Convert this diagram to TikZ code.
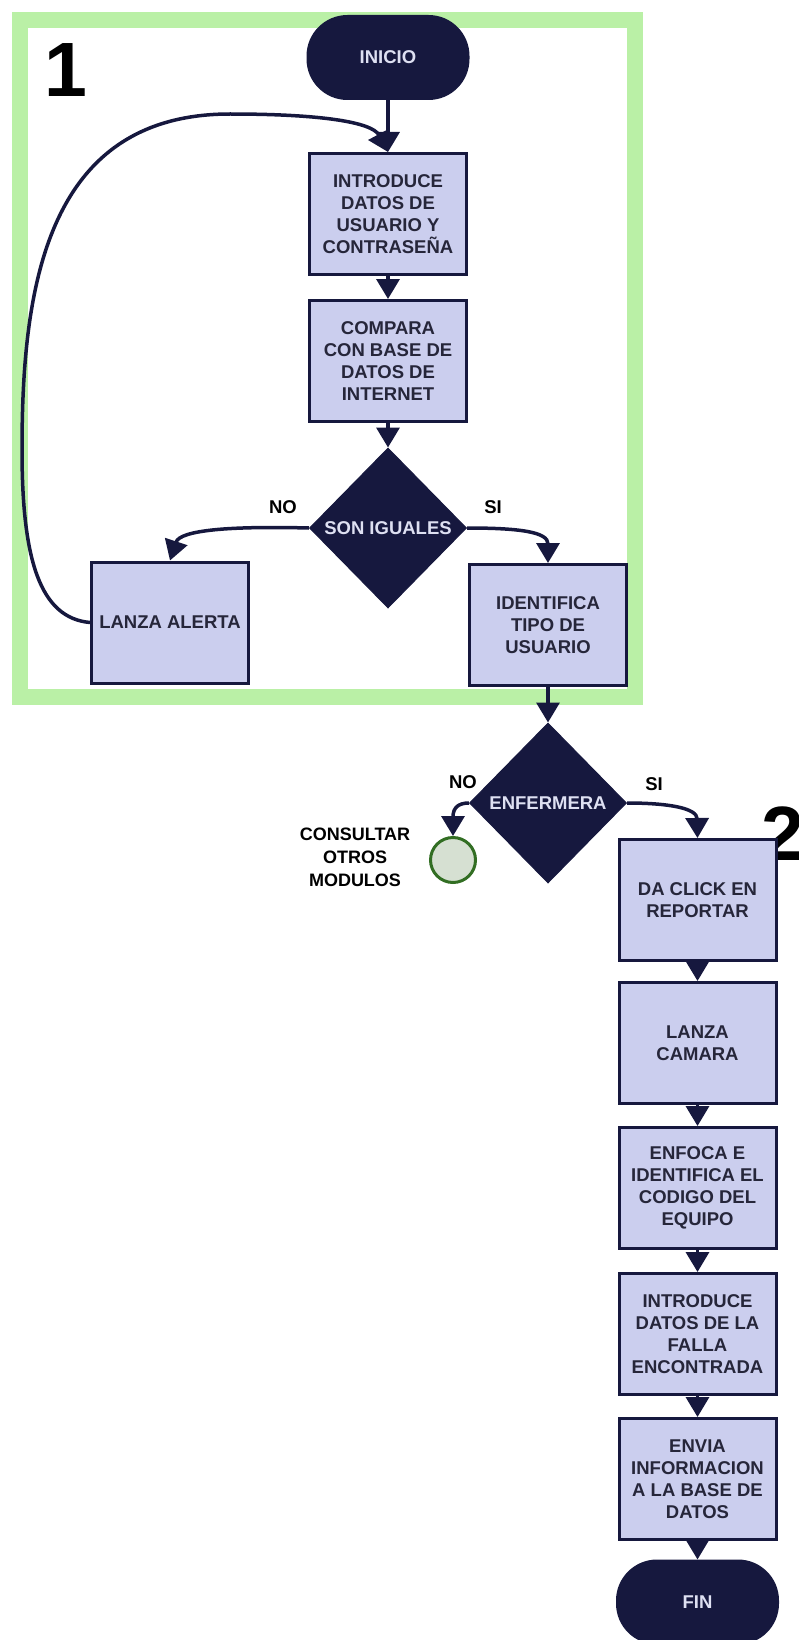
\documentclass[tikz,border=0pt]{standalone}
\usepackage{fontspec}
\setmainfont{Liberation Sans}
\usetikzlibrary{shapes.geometric,arrows.meta}
\definecolor{navy}{RGB}{22,24,62}
\definecolor{boxfill}{RGB}{203,206,238}
\definecolor{boxtext}{RGB}{38,38,58}
\definecolor{darktext}{RGB}{222,224,242}
\definecolor{framegreen}{RGB}{186,240,166}
\definecolor{termfill}{RGB}{214,224,210}
\definecolor{termline}{RGB}{50,110,35}

\begin{document}
\begin{tikzpicture}[x=1pt,y=-1pt,
  every node/.style={font=\bfseries\fontsize{18.5}{22}\selectfont, inner sep=0pt},
  process/.style={rectangle, draw=navy, line width=3pt, fill=boxfill, text=boxtext,
    minimum width=157pt, minimum height=121pt, align=center},
  terminal/.style={rectangle, rounded corners=40pt, fill=navy, draw=navy, line width=2pt,
    text=darktext, minimum width=161pt, minimum height=83pt},
  decision/.style={diamond, fill=navy, draw=navy, line width=1pt, text=darktext,
    minimum width=157pt, minimum height=160pt},
  flow/.style={draw=navy, line width=3.5pt, -{Triangle[width=23pt,length=20pt]}},
  answer/.style={text=black},
  bignum/.style={font=\bfseries\fontsize{77}{77}\selectfont, text=black}
]
\useasboundingbox (0,0) rectangle (798,1640);

% module 1 frame
\draw[framegreen, line width=16pt] (20,20) rectangle (635,697);

% module 1: login
\node[bignum] (n1) at (66,70) {1};
\node[terminal] (ini) at (388,57.5) {INICIO};
\node[process] (in1) at (388,214) {INTRODUCE\\DATOS DE\\USUARIO Y\\CONTRASEÑA};
\node[process] (cmp) at (388,361) {COMPARA\\CON BASE DE\\DATOS DE\\INTERNET};
\node[decision] (son) at (388,528) {SON IGUALES};
\node[process] (la) at (170,622.5) {LANZA ALERTA};
\node[process] (idt) at (548,625) {IDENTIFICA\\TIPO DE\\USUARIO};
\node[answer] (no1) at (283,507) {NO};
\node[answer] (si1) at (493,507) {SI};

% user type
\node[decision] (enf) at (548,803) {ENFERMERA};
\node[answer] (no2) at (463,782) {NO};
\node[answer] (si2) at (654,784) {SI};
\node[circle, draw=termline, fill=termfill, line width=3pt, minimum size=45pt] (cir) at (453,860) {};
\node[answer, align=center, font=\bfseries\fontsize{18}{23}\selectfont] (cons) at (355,857) {CONSULTAR\\OTROS\\MODULOS};

% module 2: report
\node[bignum, anchor=west] (n2) at (761,834) {2};
\node[process] (clk) at (697.5,900) {DA CLICK EN\\REPORTAR};
\node[process] (cam) at (697.5,1043) {LANZA\\CAMARA};
\node[process] (enfo) at (697.5,1188) {ENFOCA E\\IDENTIFICA EL\\CODIGO DEL\\EQUIPO};
\node[process] (fal) at (697.5,1334) {INTRODUCE\\DATOS DE LA\\FALLA\\ENCONTRADA};
\node[process] (env) at (697.5,1479) {ENVIA\\INFORMACION\\A LA BASE DE\\DATOS};
\node[terminal] (fin) at (697.5,1602) {FIN};

% connectors
\draw[flow] (ini) -- (in1);
\draw[flow] (la.west) .. controls (40,618) and (22,560) .. (22,450)
  .. controls (22,290) and (45,114) .. (230,114)
  .. controls (320,114) and (372,122) .. (in1.north);
\draw[flow] (in1) -- (cmp);
\draw[flow] (cmp) -- (son);
\draw[flow] (son.west) .. controls (230,526) and (180,530) .. (la.north);
\draw[flow] (son.east) .. controls (520,528) and (548,532) .. (idt.north);
\draw[flow] (idt) -- (enf);
\draw[flow] (enf.west) .. controls (458,803) and (453,808) .. (cir.north);
\draw[flow] (enf.east) .. controls (668,803) and (697,808) .. (clk.north);
\draw[flow] (clk) -- (cam);
\draw[flow] (cam) -- (enfo);
\draw[flow] (enfo) -- (fal);
\draw[flow] (fal) -- (env);
\draw[flow] (env) -- (fin);
\end{tikzpicture}
\end{document}
